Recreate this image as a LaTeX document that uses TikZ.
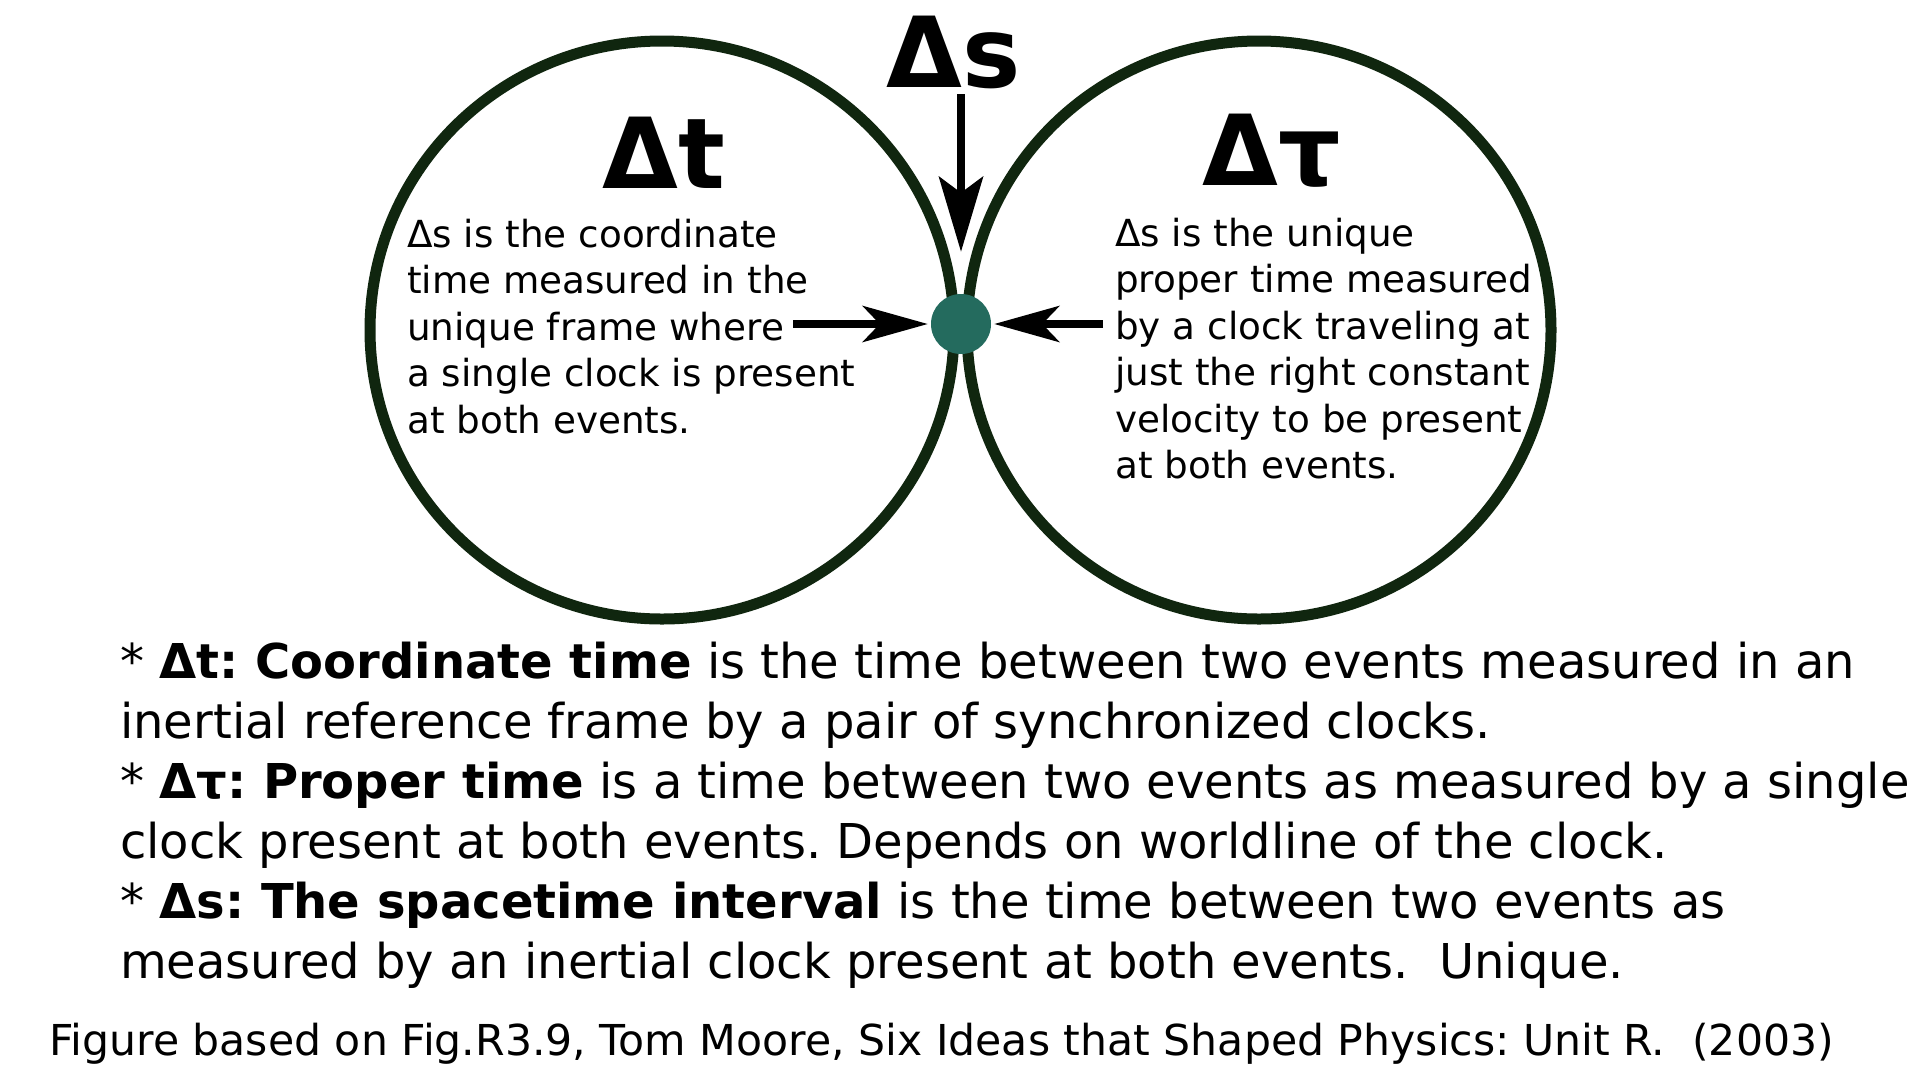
\documentclass[tikz,border=0pt]{standalone}
\usepackage{fontspec}
\setmainfont{DejaVu Sans}
\usetikzlibrary{arrows.meta,shapes.geometric}
\definecolor{ringgreen}{HTML}{10260F}
\definecolor{dotteal}{HTML}{246B5E}
\tikzset{
  ring/.style={ellipse, draw=ringgreen, line width=11pt, minimum width=584pt, minimum height=578pt, inner sep=0pt},
  evdot/.style={circle, fill=dotteal, minimum size=60pt, inner sep=0pt},
  bigsym/.style={anchor=base, inner sep=0pt, font=\fontsize{98}{98}\selectfont\bfseries},
  circtext/.style={anchor=base west, inner sep=0pt, align=left, font=\fontsize{37.3}{46.5}\selectfont},
  deftext/.style={anchor=base west, inner sep=0pt, align=left, font=\fontsize{48}{60}\selectfont},
  foottext/.style={anchor=base west, inner sep=0pt, font=\fontsize{42.6}{46}\selectfont},
  varrow/.style={line width=8pt, -{Stealth[length=75pt, width=44pt, inset=16pt]}},
  harrow/.style={line width=8pt, -{Stealth[length=65pt, width=36pt, inset=17pt]}}
}
\frenchspacing
\begin{document}
\frenchspacing
\begin{tikzpicture}[x=1pt, y=-1pt]
\useasboundingbox (0,0) rectangle (1920,1080);
\fill[white] (0,0) rectangle (1920,1080);

\node[ring] (lc) at (662,330) {};
\node[ring] (rc) at (1259,330) {};
\node[evdot] (dot) at (961,324) {};

\node[bigsym] (ds) at (953.5,87) {Δs};
\node[bigsym] (dt) at (663.5,188) {Δt};
\node[bigsym] (dtau) at (1272,185) {Δτ};

% multi-line nodes: base anchor = baseline of the last line
\node[circtext] (ltext) at (407,433) {Δs is the coordinate\\time measured in the\\unique frame where\\a single clock is present\\at both events.};
\node[circtext] (rtext) at (1115,478.5) {Δs is the unique\\proper time measured\\by a clock traveling at\\just the right constant\\velocity to be present\\at both events.};

\coordinate (vtail) at (961,94);
\coordinate (ltail) at (793,324);
\coordinate (rtail) at (1103,324);
\draw[varrow, shorten >=42pt] (vtail) -- (dot);
\draw[harrow, shorten >=3pt] (ltail) -- (dot);
\draw[harrow, shorten >=3pt] (rtail) -- (dot);

\node[deftext] (defs) at (120,978) {* \textbf{Δt: Coordinate time} is the time between two events measured in an\\inertial reference frame by a pair of synchronized clocks.\\* \textbf{Δτ: Proper time} is a time between two events as measured by a single\\clock present at both events. Depends on worldline of the clock.\\* \textbf{Δs: The spacetime interval} is the time between two events as\\measured by an inertial clock present at both events.\ \ Unique.};

\node[foottext] (foot) at (49,1055) {Figure based on Fig.R3.9, Tom Moore, Six Ideas that Shaped Physics: Unit R.\ \ (2003)};
\end{tikzpicture}
\end{document}
